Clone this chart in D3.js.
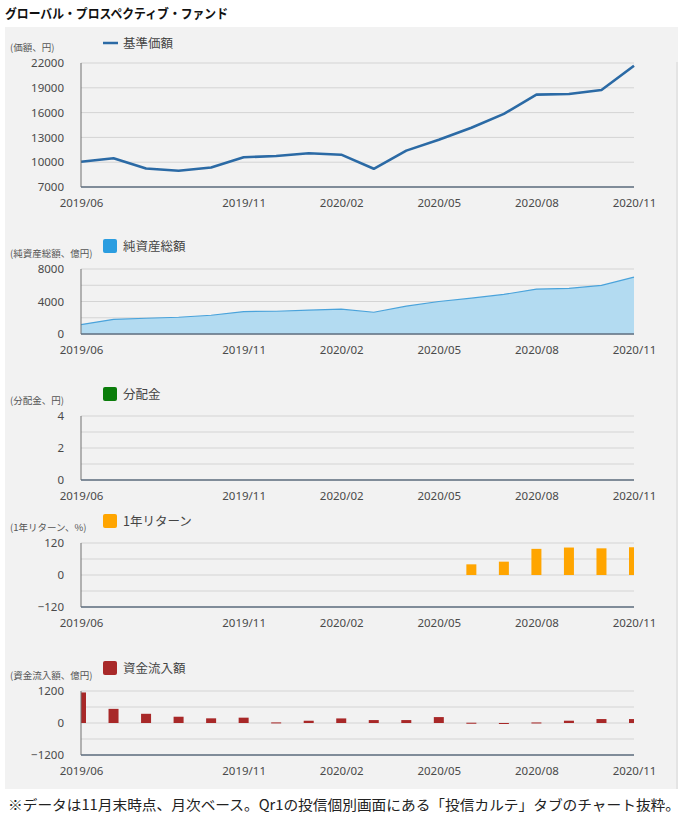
<!DOCTYPE html>
<html><head><meta charset="utf-8">
<script src="https://cdn.jsdelivr.net/npm/d3@7"></script>
<style>
html,body{margin:0;padding:0;background:#fff;}
svg{display:block;font-family:"Noto Sans CJK JP","Noto Sans",sans-serif;}
</style></head>
<body>
<svg id="c" width="682" height="819"></svg>
<script>
const months = ["2019/06","2019/07","2019/08","2019/09","2019/10","2019/11","2019/12","2020/01","2020/02","2020/03","2020/04","2020/05","2020/06","2020/07","2020/08","2020/09","2020/10","2020/11"];
const xTickLabels = ["2019/06","2019/11","2020/02","2020/05","2020/08","2020/11"];
const navValues = [10060,10470,9240,8960,9360,10590,10750,11080,10910,9200,11400,12710,14170,15850,18170,18250,18740,21670];
const netAssets = [1160,1810,1940,2060,2310,2760,2800,2930,3050,2680,3420,4000,4410,4870,5530,5610,5980,7010];
const distributions = [null,null,null,null,null,null,null,null,null,null,null,null,null,null,null,null,null,null];
const oneYearReturn = [null,null,null,null,null,null,null,null,null,null,null,null,40,50,98,103,100,104];
const fundFlows = [1145,530,345,235,175,200,22,85,172,110,110,222,10,-30,20,86,148,148];
const navTicks = [7000,10000,13000,16000,19000,22000];
const assetTicks = [0,4000,8000];
const assetGrid = [0,2000,4000,6000,8000];
const distTicks = [0,2,4];
const distGrid = [0,1,2,3,4];
const retTicks = [-120,0,120];
const retGrid = [-120,-60,0,60,120];
const flowTicks = [-1200,0,1200];
const flowGrid = [-1200,-600,0,600,1200];

const svg = d3.select("#c");
const X0 = 81, X1 = 634;
const x = d3.scalePoint().domain(months).range([X0, X1]);
const tickCol = "#4a4a4a";

svg.append("text").attr("x",5).attr("y",18).attr("font-size",13).attr("font-weight","bold")
  .attr("fill","#111").attr("textLength",223).attr("lengthAdjust","spacingAndGlyphs")
  .text("グローバル・プロスペクティブ・ファンド");
svg.append("rect").attr("x",5).attr("y",27).attr("width",673).attr("height",762).attr("fill","#f2f2f2");
svg.append("line").attr("x1",677).attr("x2",677).attr("y1",62).attr("y2",789).attr("stroke","#d6d6d6");

svg.append("defs").append("clipPath").attr("id","plotclip").append("rect")
  .attr("x",X0).attr("y",0).attr("width",X1-X0).attr("height",819);

function panel(o){
  const y = d3.scaleLinear().domain(o.domain).range([o.bottom,o.top]);
  const g = svg.append("g");
  g.selectAll(".grid").data(o.grid).join("line")
    .attr("x1",X0).attr("x2",X1).attr("y1",d=>y(d)).attr("y2",d=>y(d))
    .attr("stroke","#d4d4d4").attr("stroke-width",1);
  const ya = g.append("g").attr("transform",`translate(${X0-14},0)`)
    .call(d3.axisLeft(y).tickValues(o.ticks).tickSize(0).tickFormat(d3.format("d")));
  ya.select(".domain").remove();
  ya.selectAll("text").attr("font-size",11.5).attr("fill",tickCol).attr("font-family","Noto Sans, sans-serif");
  const xa = g.append("g").attr("transform",`translate(0,${o.bottom+9})`)
    .call(d3.axisBottom(x).tickValues(xTickLabels).tickSize(0));
  xa.select(".domain").remove();
  xa.selectAll("text").attr("font-size",11.5).attr("fill",tickCol).attr("font-family","Noto Sans, sans-serif");
  o.draw(g,y);
  g.append("line").attr("x1",X0).attr("x2",X0).attr("y1",o.top).attr("y2",o.bottom)
    .attr("stroke","#707070").attr("stroke-width",1);
  g.append("line").attr("x1",X0).attr("x2",X1).attr("y1",o.bottom).attr("y2",o.bottom)
    .attr("stroke","#5f6f80").attr("stroke-width",1.5);
  g.append("text").attr("x",10).attr("y",o.top-12).attr("font-size",9.5).attr("fill","#555").text(o.unit);
  if(o.legendLine){
    g.append("line").attr("x1",103).attr("x2",118).attr("y1",o.legendY).attr("y2",o.legendY)
      .attr("stroke",o.legendColor).attr("stroke-width",2.5);
  } else {
    g.append("rect").attr("x",103).attr("y",o.legendY-7).attr("width",14).attr("height",14).attr("rx",2)
      .attr("fill",o.legendColor);
  }
  g.append("text").attr("x",123).attr("y",o.legendY+4.5).attr("font-size",12.5).attr("fill","#444").text(o.legend);
}

panel({top:63, bottom:187, domain:[7000,22000], ticks:navTicks, grid:navTicks,
  unit:"(価額、円)", legend:"基準価額", legendY:43, legendLine:true, legendColor:"#2b6aa5",
  draw:(g,y)=>{
    g.append("path").datum(navValues)
      .attr("d",d3.line().x((d,i)=>x(months[i])).y(d=>y(d)))
      .attr("fill","none").attr("stroke","#2b6aa5").attr("stroke-width",2.6).attr("stroke-linejoin","round");
  }});

panel({top:269, bottom:334, domain:[0,8000], ticks:assetTicks, grid:assetGrid,
  unit:"(純資産総額、億円)", legend:"純資産総額", legendY:246, legendColor:"#2b9de0",
  draw:(g,y)=>{
    g.append("path").datum(netAssets)
      .attr("d",d3.area().x((d,i)=>x(months[i])).y0(y(0)).y1(d=>y(d)))
      .attr("fill","#b3dbf1");
    g.append("path").datum(netAssets)
      .attr("d",d3.line().x((d,i)=>x(months[i])).y(d=>y(d)))
      .attr("fill","none").attr("stroke","#4aa3db").attr("stroke-width",1.2);
  }});

panel({top:416, bottom:480, domain:[0,4], ticks:distTicks, grid:distGrid,
  unit:"(分配金、円)", legend:"分配金", legendY:394, legendColor:"#0b7d0b",
  draw:(g,y)=>{
    g.append("g").attr("clip-path","url(#plotclip)").selectAll("rect")
      .data(months.map((m,i)=>({m,v:distributions[i]})).filter(d=>d.v!=null)).join("rect")
      .attr("x",d=>x(d.m)-5).attr("width",10).attr("y",d=>y(Math.max(0,d.v))).attr("height",d=>Math.abs(y(d.v)-y(0)))
      .attr("fill","#0b7d0b");
  }});

panel({top:543, bottom:607, domain:[-120,120], ticks:retTicks, grid:retGrid,
  unit:"(1年リターン、%)", legend:"1年リターン", legendY:521, legendColor:"#ffa500",
  draw:(g,y)=>{
    g.append("g").attr("clip-path","url(#plotclip)").selectAll("rect")
      .data(months.map((m,i)=>({m,v:oneYearReturn[i]})).filter(d=>d.v!=null)).join("rect")
      .attr("x",d=>x(d.m)-5).attr("width",10).attr("y",d=>y(Math.max(0,d.v))).attr("height",d=>Math.abs(y(d.v)-y(0)))
      .attr("fill","#ffa500");
  }});

panel({top:691, bottom:755, domain:[-1200,1200], ticks:flowTicks, grid:flowGrid,
  unit:"(資金流入額、億円)", legend:"資金流入額", legendY:668, legendColor:"#a82828",
  draw:(g,y)=>{
    g.append("g").attr("clip-path","url(#plotclip)").selectAll("rect")
      .data(months.map((m,i)=>({m,v:fundFlows[i]})).filter(d=>d.v!=null)).join("rect")
      .attr("x",d=>x(d.m)-5).attr("width",10).attr("y",d=>y(Math.max(0,d.v))).attr("height",d=>Math.max(1,Math.abs(y(d.v)-y(0))))
      .attr("fill","#a82828");
  }});

svg.append("text").attr("x",8).attr("y",810).attr("font-size",14).attr("fill","#222")
  .attr("textLength",672).attr("lengthAdjust","spacingAndGlyphs")
  .text("※データは11月末時点、月次ベース。Qr1の投信個別画面にある「投信カルテ」タブのチャート抜粋。");
</script>
</body></html>
